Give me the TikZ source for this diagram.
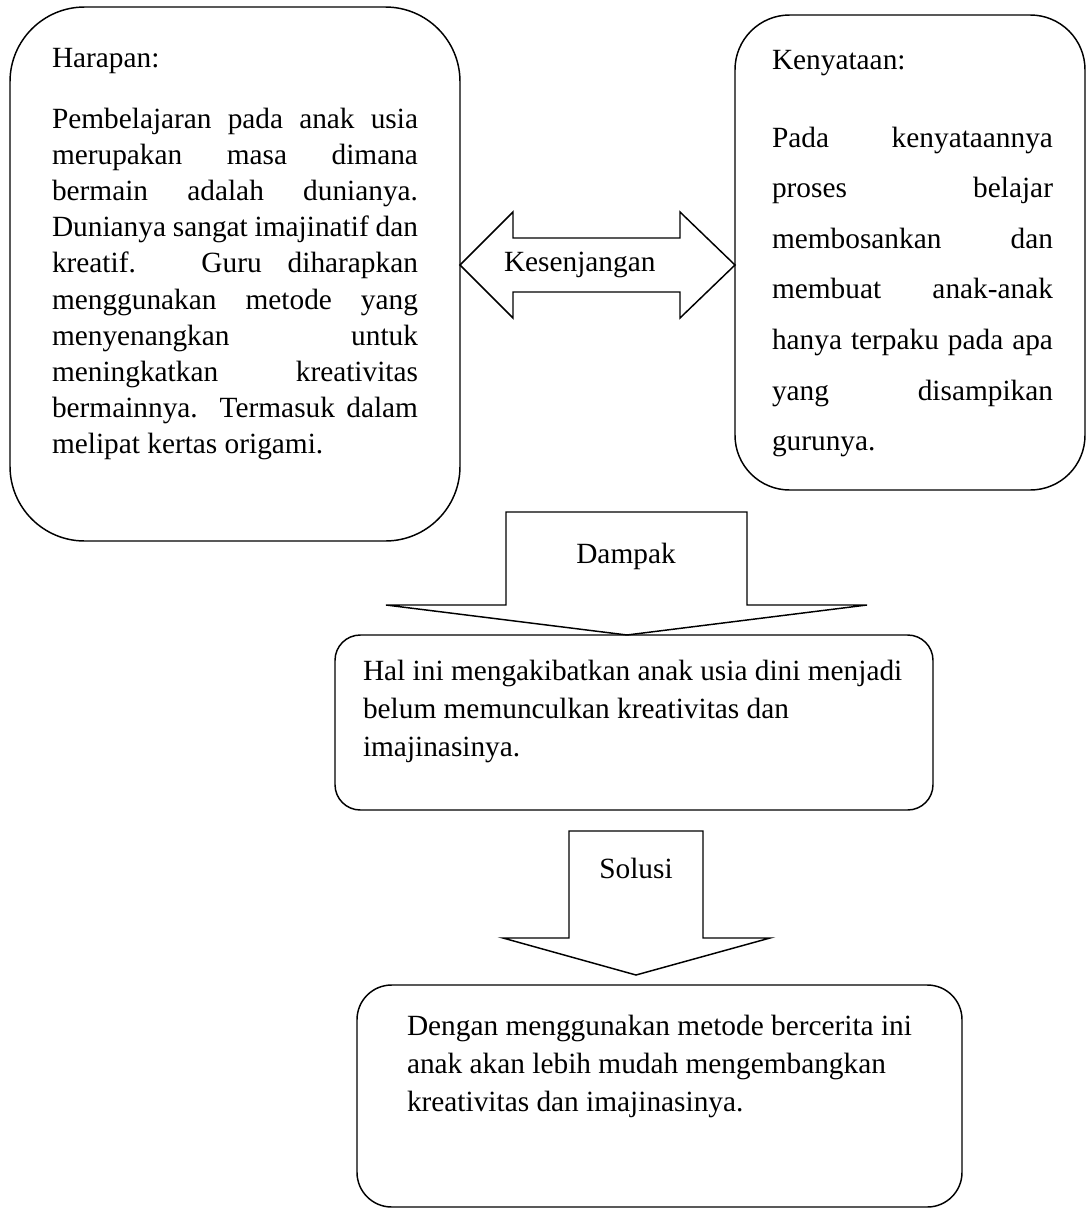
\documentclass[tikz,border=0pt]{standalone}
\usepackage{fontspec}
\setmainfont{Liberation Serif}
\newcommand\HL[1]{\makebox[274.5pt][s]{#1}}
\newcommand\KL[1]{\makebox[210.75pt][s]{#1}}
\begin{document}
\begin{tikzpicture}[x=0.75pt,y=-0.75pt,
  line width=1.1pt, line join=miter,
  outlined/.style={draw=black, line width=1.1pt},
  txt/.style={inner sep=0pt, outer sep=0pt, font=\fontsize{22}{27.1}\selectfont},
  ktxt/.style={txt, font=\fontsize{22}{37.9}\selectfont},
  btxt/.style={txt, font=\fontsize{22}{28.7}\selectfont}]
\useasboundingbox (0,0) rectangle (1086,1210);

% boxes
\draw[outlined, rounded corners=56pt] (10,7) rectangle (460,541);
\draw[outlined, rounded corners=41pt] (735,15) rectangle (1085,490);
\draw[outlined, rounded corners=19pt] (335,635) rectangle (933,810);
\draw[outlined, rounded corners=26pt] (357,985) rectangle (962,1207);

% double arrow (Kesenjangan)
\draw[outlined] (460,265) -- (513,212) -- (513,238) -- (680,238) -- (680,212)
  -- (735,265) -- (680,318) -- (680,292) -- (513,292) -- (513,318) -- cycle;

% Dampak arrow
\draw[outlined] (506,605) -- (506,512) -- (747,512) -- (747,605) -- (867,605)
  -- (627,635) -- (386,605) -- cycle;

% Solusi arrow
\draw[outlined] (569,938) -- (569,831) -- (703,831) -- (703,938) -- (770,938)
  -- (636,975) -- (503,938) -- cycle;

% texts
\node[txt, anchor=base west] (hlabel) at (52,67) {Harapan:};
\node[txt, anchor=north west, align=left] (hbody) at (52,108)
  {\HL{Pembelajaran pada anak usia}\\
   \HL{merupakan masa dimana}\\
   \HL{bermain adalah dunianya.}\\
   \HL{Dunianya sangat imajinatif dan}\\
   \HL{kreatif. Guru diharapkan}\\
   \HL{menggunakan metode yang}\\
   \HL{menyenangkan untuk}\\
   \HL{meningkatkan kreativitas}\\
   \HL{bermainnya. Termasuk dalam}\\
   melipat kertas origami.};

\node[txt, anchor=base west] (klabel) at (772,69) {Kenyataan:};
\node[ktxt, anchor=north west, align=left] (kbody) at (772,127)
  {\KL{Pada kenyataannya}\\
   \KL{proses belajar}\\
   \KL{membosankan dan}\\
   \KL{membuat anak-anak}\\
   \KL{hanya terpaku pada apa}\\
   \KL{yang disampikan}\\
   gurunya.};

\node[txt, anchor=base west] (gap) at (504,271) {Kesenjangan};
\node[txt, anchor=base] (dampak) at (626,563) {Dampak};
\node[btxt, anchor=north west, align=left] (akibat) at (363,660)
  {Hal ini mengakibatkan anak usia dini menjadi\\
   belum memunculkan kreativitas dan\\
   imajinasinya.};
\node[txt, anchor=base] (solusi) at (636,878) {Solusi};
\node[btxt, anchor=north west, align=left] (dengan) at (407,1015)
  {Dengan menggunakan metode bercerita ini\\
   anak akan lebih mudah mengembangkan\\
   kreativitas dan imajinasinya.};
\end{tikzpicture}
\end{document}
